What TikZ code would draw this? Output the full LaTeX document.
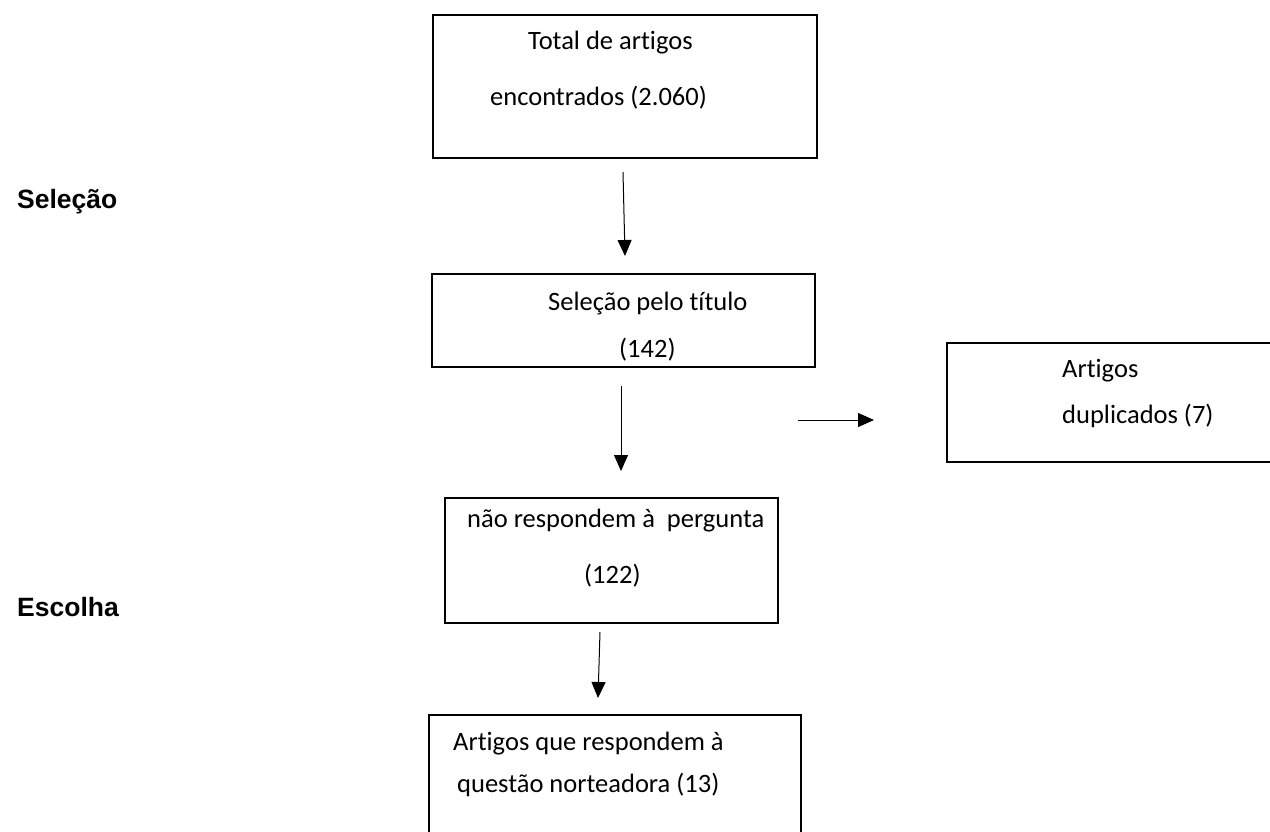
\documentclass[tikz,border=0pt]{standalone}
\usepackage{fontspec}
\setmainfont{Carlito}[Ligatures=NoCommon]
\newfontfamily\labelfont{Liberation Sans}
\usetikzlibrary{arrows.meta,positioning}

\begin{document}
\begin{tikzpicture}[x=1pt,y=-1pt, box/.style={draw,line width=1.5pt,rectangle,inner sep=0pt}, txt/.style={anchor=base west,inner sep=0pt,font=\fontsize{26.5}{30}\selectfont}, phase/.style={anchor=base west,inner sep=0pt,font=\labelfont\bfseries\fontsize{26.5}{30}\selectfont}, arrow/.style={-{Triangle[length=16pt,width=14pt]},line width=1pt}]
\useasboundingbox (0,0) rectangle (1270,831);
\clip (0,0) rectangle (1270,831);
% phases
\node[phase] (selecao) at (17,208) {Seleção};
\node[phase] (escolha) at (17,616) {Escolha};
% boxes
\node[box,minimum width=384pt,minimum height=143pt] (total) at (625,86.5) {};
\node[box,minimum width=383pt,minimum height=93pt] (titulo) at (623.5,320.5) {};
\node[box,minimum width=333pt,minimum height=125pt] (naoresp) at (611.5,560.5) {};
\node[box,minimum width=372pt,minimum height=140pt] (final) at (615,785) {};
\node[box,minimum width=343pt,minimum height=119pt] (dupl) at (1118.5,402.5) {};
% texts
\node[txt] (total1) at (528,49) {Total de artigos};
\node[txt] (total2) at (490,105) {encontrados (2.060)};
\node[txt] (titulo1) at (548,310) {Seleção pelo título};
\node[txt] (titulo2) at (619,357) {(142)};
\node[txt] (naoresp1) at (467,527) {não respondem à\ \ pergunta};
\node[txt] (naoresp2) at (584,583) {(122)};
\node[txt] (final1) at (453,750) {Artigos que respondem à};
\node[txt] (final2) at (457,792) {questão norteadora (13)};
\node[txt] (dupl1) at (1062,377) {Artigos};
\node[txt] (dupl2) at (1062,423) {duplicados (7)};
% arrows
\coordinate (a1) at (623,172); \coordinate (b1) at (625,256);
\coordinate (a2) at (621,386); \coordinate (b2) at (621,471);
\coordinate (a3) at (600,632); \coordinate (b3) at (598,698);
\coordinate (a4) at (798,420); \coordinate (b4) at (874,420);
\draw[arrow] (a1)--(b1); \draw[arrow] (a2)--(b2); \draw[arrow] (a3)--(b3); \draw[arrow] (a4)--(b4);
\end{tikzpicture}
\end{document}
